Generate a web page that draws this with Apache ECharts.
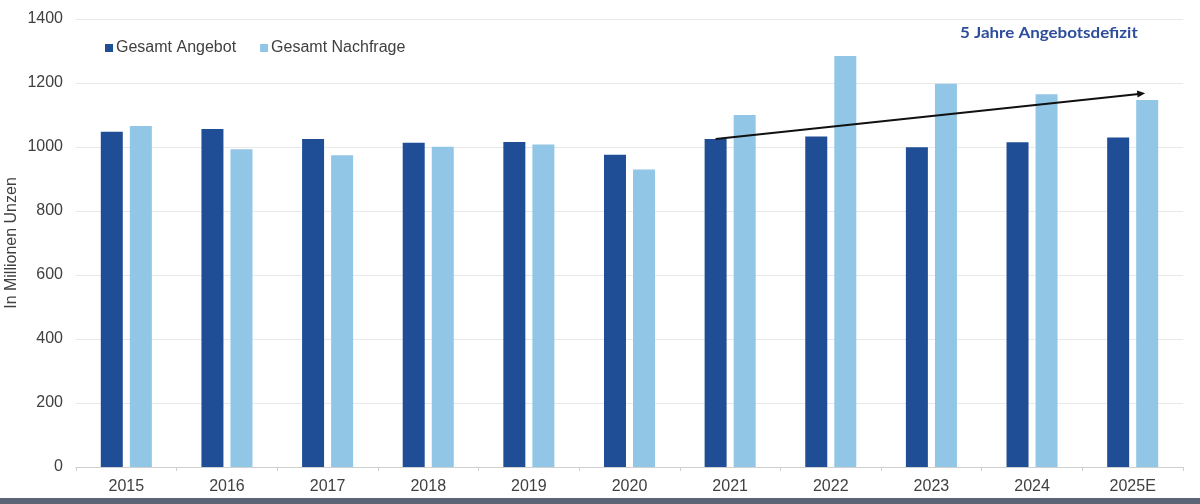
<!DOCTYPE html>
<html>
<head>
<meta charset="utf-8">
<script src="https://cdn.jsdelivr.net/npm/echarts@6/dist/echarts.min.js"></script>
<style>
html,body{margin:0;padding:0;background:#fff;}
#c{width:1200px;height:504px;}
</style>
</head>
<body>
<div id="c"></div>
<script>
const categories = ['2015','2016','2017','2018','2019','2020','2021','2022','2023','2024','2025E'];
const angebot = [1048, 1056, 1025, 1013, 1016, 976, 1025, 1033, 999, 1015, 1030];
const nachfrage = [1066, 993, 974, 1001, 1008, 930, 1100, 1284, 1198, 1165, 1147];
const yTicks = [0, 200, 400, 600, 800, 1000, 1200, 1400];
const arrowStart = {cat: 6, series: 0, value: 1025};
const arrowEnd = {cat: 10, series: 1, value: 1168};
const annotation = '5 Jahre Angebotsdefizit';

const chart = echarts.init(document.getElementById('c'), null, {renderer: 'canvas'});
const textColor = '#404040';
const ff = 'Liberation Sans, Arial';
chart.setOption({
  animation: false,
  backgroundColor: '#ffffff',
  grid: {left: 76, right: 17, top: 19, bottom: 37, containLabel: false, outerBoundsMode: 'none'},
  legend: {
    left: 100, top: 35,
    itemWidth: 8, itemHeight: 8, itemGap: 24,
    icon: 'rect',
    textStyle: {fontFamily: ff, fontSize: 16, color: textColor, padding: [0,0,0,-2]},
    data: ['Gesamt Angebot', 'Gesamt Nachfrage']
  },
  xAxis: {
    type: 'category',
    data: categories,
    axisLine: {lineStyle: {color: '#d0d0d0', width: 1}},
    axisTick: {show: true, length: 4, lineStyle: {color: '#d0d0d0'}},
    axisLabel: {fontFamily: ff, fontSize: 16, color: textColor, margin: 12}
  },
  yAxis: {
    type: 'value',
    min: yTicks[0], max: yTicks[yTicks.length-1], interval: 200,
    name: 'In Millionen Unzen',
    nameLocation: 'middle',
    nameGap: 56,
    nameMoveOverlap: false,
    nameTextStyle: {fontFamily: ff, fontSize: 16, color: textColor},
    axisLine: {show: false},
    axisTick: {show: false},
    splitLine: {lineStyle: {color: '#e8e8e8', width: 1}},
    axisLabel: {fontFamily: ff, fontSize: 16, color: textColor, margin: 13,
      formatter: function (v) { return String(v); }}
  },
  series: [
    {name: 'Gesamt Angebot', type: 'bar', data: angebot, barWidth: 22, barGap: '32%',
     itemStyle: {color: '#1f4e97'}},
    {name: 'Gesamt Nachfrage', type: 'bar', data: nachfrage, barWidth: 22, barGap: '32%',
     itemStyle: {color: '#92c6e6'}}
  ]
});

function barCenterX(seriesIndex, idx) {
  const data = chart.getModel().getSeriesByIndex(seriesIndex).getData();
  const l = data.getItemLayout(idx);
  return l.x + l.width / 2;
}
const sx = barCenterX(arrowStart.series, arrowStart.cat);
const sy = chart.convertToPixel({yAxisIndex: 0}, arrowStart.value);
const ex = barCenterX(arrowEnd.series, arrowEnd.cat) - 2;
const ey = chart.convertToPixel({yAxisIndex: 0}, arrowEnd.value);
const ang = Math.atan2(ey - sy, ex - sx);
const hl = 8, hw = 3.5;
const p1 = [ex - hl*Math.cos(ang) + hw*Math.sin(ang), ey - hl*Math.sin(ang) - hw*Math.cos(ang)];
const p2 = [ex - hl*Math.cos(ang) - hw*Math.sin(ang), ey - hl*Math.sin(ang) + hw*Math.cos(ang)];
chart.setOption({
  graphic: [
    {type: 'line', shape: {x1: sx, y1: sy, x2: ex - 4*Math.cos(ang), y2: ey - 4*Math.sin(ang)},
     style: {stroke: '#111', lineWidth: 2}, z: 100},
    {type: 'polygon', shape: {points: [[ex, ey], p1, p2]}, style: {fill: '#111'}, z: 100},
    {type: 'text', x: 960, y: 33, scaleX: 1.17,
     style: {text: annotation, fontFamily: 'Lato, Open Sans', fontWeight: 'bold', fontSize: 14.5,
             fill: '#2e4d9b', verticalAlign: 'middle', align: 'left'}, z: 100},
    {type: 'rect', shape: {x: 0, y: 498, width: 1200, height: 6}, style: {fill: '#5b6575'}, z: 100}
  ]
});
</script>
</body>
</html>
